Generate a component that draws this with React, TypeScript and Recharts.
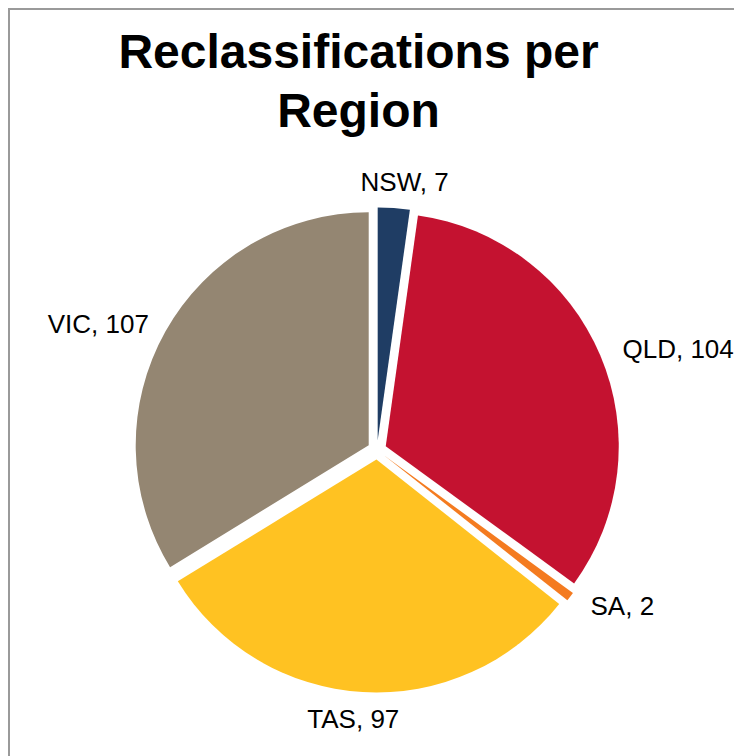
import { Cell, Pie, PieChart, Sector } from 'recharts';

const regions = ['NSW', 'QLD', 'SA', 'TAS', 'VIC'];
const reclassifications = [7, 104, 2, 97, 107];
const COLORS = ['#1f3d64', '#c41230', '#f47b20', '#ffc222', '#948672'];

const data = regions.map((name, i) => ({ name, value: reclassifications[i] }));

const RAD = Math.PI / 180;
const EXPLODE = 9.5;
const FONT = '"Liberation Sans", Arial, sans-serif';

const explodedSlice = (props: any) => {
  const { cx, cy, midAngle } = props;
  const dx = EXPLODE * Math.cos(-midAngle * RAD);
  const dy = EXPLODE * Math.sin(-midAngle * RAD);
  return <Sector {...props} cx={cx + dx} cy={cy + dy} stroke="none" />;
};

// labels sit just outside the exploded slice, roughly like Excel's "outside end"
const outsideLabel = (props: any) => {
  const { cx, cy, midAngle, outerRadius, name, value } = props;
  const ux = Math.cos(-midAngle * RAD);
  const uy = Math.sin(-midAngle * RAD);
  const r = outerRadius + 25;
  let x = cx + r * ux;
  let y = cy + r * uy;
  let anchor: 'start' | 'end' | 'middle' = 'middle';
  if (ux > 0.3) {
    anchor = 'start';
    x += 8;
  } else if (ux < -0.3) {
    anchor = 'end';
    x -= 3;
  } else {
    x += ux * 140;
    y += uy * 11;
  }
  return (
    <text x={x} y={y} textAnchor={anchor} dominantBaseline="central" fill="#000" fontSize={26} fontFamily={FONT}>
      {`${name}, ${value}`}
    </text>
  );
};

export default function App() {
  // fixed so the oversize frame never triggers page scrollbars
  return (
    <div
      style={{
        position: 'fixed',
        left: 8,
        top: 8,
        width: 760,
        height: 780,
        border: '2px solid #9a9a9a',
        background: '#fff',
      }}
    >
      <div
        style={{
          position: 'absolute',
          left: 0,
          top: 12,
          width: 697,
          textAlign: 'center',
          fontFamily: FONT,
          fontWeight: 'bold',
          fontSize: 48,
          lineHeight: '59px',
          color: '#000',
        }}
      >
        Reclassifications per
        <br />
        Region
      </div>
      <PieChart width={760} height={780} margin={{ top: 0, right: 0, bottom: 0, left: 0 }}>
        <Pie
          data={data}
          dataKey="value"
          nameKey="name"
          cx={367}
          cy={440}
          outerRadius={233}
          startAngle={90}
          endAngle={-270}
          stroke="none"
          shape={explodedSlice}
          label={outsideLabel}
          labelLine={false}
          isAnimationActive={false}
        >
          {data.map((entry, index) => (
            <Cell key={entry.name} fill={COLORS[index]} />
          ))}
        </Pie>
      </PieChart>
    </div>
  );
}
